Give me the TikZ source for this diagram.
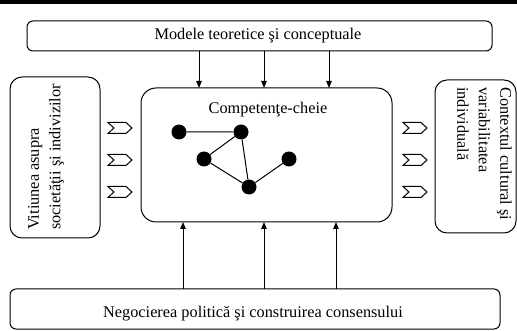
\documentclass[tikz,border=0pt]{standalone}
\usepackage{fontspec}
\setmainfont{Liberation Serif}
\usetikzlibrary{arrows.meta}
\begin{document}
\begin{tikzpicture}[x=1pt,y=-1pt,
  every node/.style={font=\fontsize{16.3}{21.5}\selectfont},
  box/.style={draw,line width=1pt},
  arr/.style={line width=1pt,-{Triangle[length=7pt,width=5.5pt]}},
  dot/.style={circle,fill=black,inner sep=0pt,minimum size=15pt},
  link/.style={line width=1pt},
  pics/chev/.style={code={\draw[line width=1pt,line join=miter] (0,-5.5) -- (18,-5.5) -- (24,0) -- (18,5.5) -- (0,5.5) -- (6,0) -- cycle;}}]
\useasboundingbox (0,0) rectangle (517,331);
\fill (0,0) rectangle (517,4);
% boxes
\draw[box,rounded corners=6pt] (27,21) rectangle (492,51);
\node (top) at (258,36) {Modele teoretice şi conceptuale};
\coordinate (topS) at (259.5,51);
\draw[box,rounded corners=15pt] (141,88) rectangle (392,222);
\coordinate (cN) at (266,88);
\coordinate (cS) at (266,222);
\node (ctitle) at (268,110) {Competenţe-cheie};
\draw[box,rounded corners=12pt] (10,77) rectangle (100,238);
\node[rotate=90,anchor=north west,align=left,inner sep=0pt] (left) at (28,230) {Vitiunea asupra\\societăţii şi indivizilor};
\draw[box,rounded corners=12pt] (435,80) rectangle (516,233);
\node[rotate=-90,anchor=north west,align=left,inner sep=0pt] (right) at (512,87) {Contextul cultural şi\\variabilitatea\\individuală};
\draw[box,rounded corners=6pt] (10,289) rectangle (500,329);
\coordinate (botN) at (255,289);
\node (bot) at (253,314) {Negocierea politică şi construirea consensului};
% arrows top
\foreach \x in {199,264,329} \draw[arr] (topS -| \x,0) -- (cN -| \x,0);
% arrows bottom
\foreach \x in {183,264,336} \draw[arr] (botN -| \x,0) -- (cS -| \x,0);
% chevrons
\foreach \y in {128,160,192} {
  \pic at (108,\y) {chev};
  \pic at (403,\y) {chev};
}
% network
\node[dot] (a) at (179,132) {};
\node[dot] (b) at (241,132) {};
\node[dot] (c) at (204,159) {};
\node[dot] (d) at (289,159) {};
\node[dot] (e) at (249,187) {};
\draw[link] (a) -- (b) (b) -- (c) (b) -- (e) (c) -- (e) (e) -- (d);
\end{tikzpicture}
\end{document}
